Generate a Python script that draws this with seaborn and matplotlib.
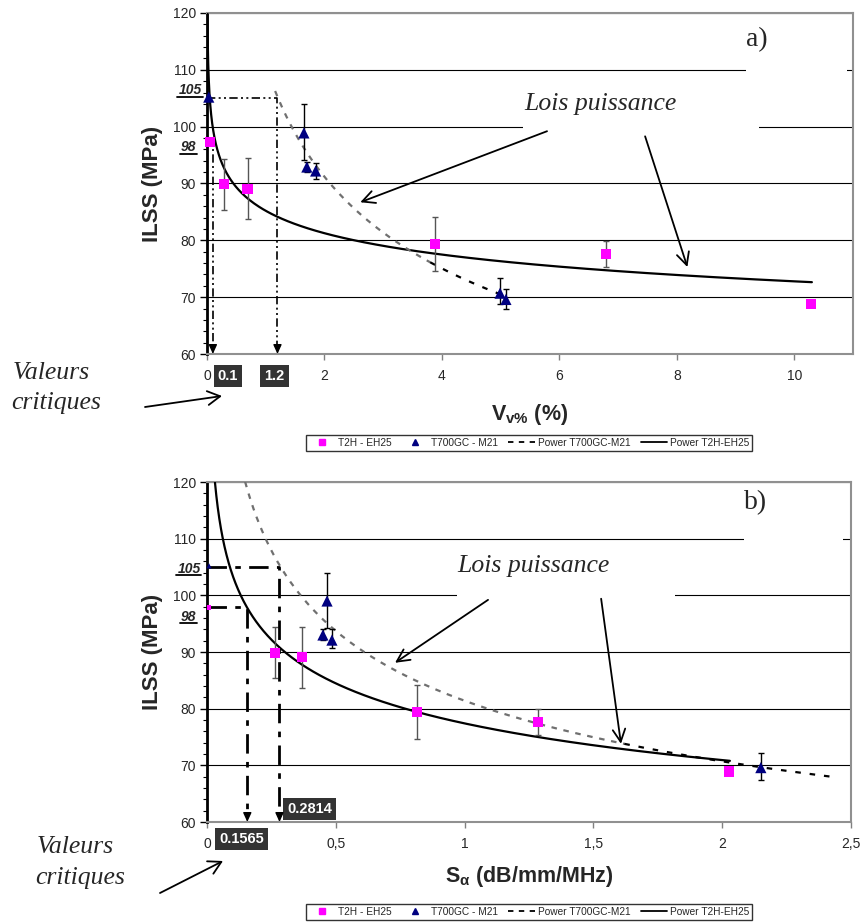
import numpy as np
import pandas as pd
import matplotlib
matplotlib.use("Agg")
import matplotlib.pyplot as plt
import seaborn as sns
from matplotlib.lines import Line2D
from matplotlib.patches import Rectangle
from matplotlib.ticker import MultipleLocator

# ---- values ----
# a) ILSS vs void content
a_t2h_x = [0.05, 0.29, 0.69, 3.88, 6.80, 10.29]
a_t2h_y = [97.3, 89.9, 89.0, 79.3, 77.6, 68.8]
a_t2h_lo = [97.3, 85.3, 83.7, 74.6, 75.3, 68.8]
a_t2h_hi = [97.3, 94.3, 94.5, 84.1, 79.9, 68.8]
a_t2h_s = [55, 55, 55, 55, 55, 55]

a_t700_x = [0.03, 1.65, 1.70, 1.85, 4.99, 5.09]
a_t700_y = [105.2, 98.9, 92.9, 92.2, 70.7, 69.6]
a_t700_lo = [105.2, 94.1, 92.0, 90.8, 68.8, 67.9]
a_t700_hi = [105.2, 104.0, 93.7, 93.6, 73.3, 71.4]
a_t700_s = [65, 65, 65, 65, 65, 65]

# b) ILSS vs attenuation slope
b_t2h_x = [0.008, 0.264, 0.369, 0.815, 1.285, 2.026]
b_t2h_y = [97.8, 89.8, 89.1, 79.4, 77.7, 68.9]
b_t2h_lo = [97.8, 85.4, 83.7, 74.7, 75.3, 68.9]
b_t2h_hi = [97.8, 94.4, 94.4, 84.2, 80.0, 68.9]
b_t2h_s = [12, 55, 55, 55, 55, 55]

b_t700_x = [0.008, 0.45, 0.466, 0.485, 2.15]
b_t700_y = [105.2, 93.0, 99.0, 92.1, 69.6]
b_t700_lo = [105.2, 92.2, 94.3, 90.7, 67.5]
b_t700_hi = [105.2, 94.0, 104.0, 94.0, 72.1]
b_t700_s = [14, 65, 65, 65, 65]

# power-law trend lines: (coef, exponent), x range, x where grey part ends
a_fit_t2h = (85.2, -0.0684)
a_fit_t2h_range = (0.0067, 10.3)
a_fit_t700 = (110.8, -0.281)
a_fit_t700_range = (1.16, 4.96, 3.8)
b_fit_t2h = (77.4, -0.126)
b_fit_t2h_range = (0.031, 2.03)
b_fit_t700 = (81.4, -0.2033)
b_fit_t700_range = (0.148, 2.42, 1.62)

# critical values
a_crit_x = [0.1, 1.2]
a_crit_y = [98, 105]
a_crit_lbl = ["0.1", "1.2"]
b_crit_x = [0.1565, 0.2814]
b_crit_y = [98, 105]
b_crit_lbl = ["0.1565", "0.2814"]

a_xticks = [0, 2, 4, 6, 8, 10]
a_xticklabels = ["0", "2", "4", "6", "8", "10"]
b_xticks = [0, 0.5, 1, 1.5, 2, 2.5]
b_xticklabels = ["0", "0,5", "1", "1,5", "2", "2,5"]

MAG = "#FF00FF"
NAVY = "#000080"
W, H = 861, 922

sns.set_style("white")
plt.rcParams["font.family"] = ["Liberation Sans", "DejaVu Sans"]
plt.rcParams["mathtext.fontset"] = "custom"
plt.rcParams["mathtext.rm"] = "Liberation Sans"
plt.rcParams["mathtext.bf"] = "Liberation Sans:bold"
plt.rcParams["mathtext.it"] = "Liberation Sans:italic"

fig = plt.figure(figsize=(W / 100, H / 100), dpi=100)


def fx(x):
    return x / W


def fy(y):
    return 1 - y / H


def power_curve(ax, coef, x0, x1, color, style, lw):
    xs = np.geomspace(x0, x1, 300)
    df = pd.DataFrame({"x": xs, "y": coef[0] * xs ** coef[1]})
    sns.lineplot(data=df, x="x", y="y", ax=ax, color=color, lw=lw,
                 legend=False, zorder=3, sort=False)
    ax.lines[-1].set_linestyle(style)


def series(ax, x, y, lo, hi, s, marker, color, ecolor):
    x, y, lo, hi = map(np.asarray, (x, y, lo, hi))
    m = hi > lo
    ax.errorbar(x[m], y[m], yerr=[y[m] - lo[m], hi[m] - y[m]], fmt="none",
                ecolor=ecolor, elinewidth=1, capsize=2.5, capthick=1, zorder=3)
    df = pd.DataFrame({"x": x, "y": y})
    sns.scatterplot(data=df, x="x", y="y", ax=ax, marker=marker, color=color,
                    s=np.asarray(s), edgecolor="none", legend=False,
                    zorder=5, clip_on=False)


def panel(rect, xlim, xticks, xticklabels, t2h, t700, fit_t2h, fit_t2h_rng,
          fit_t700, fit_t700_rng, crit_x, crit_y, crit_lbl, crit_off,
          crit_lw, crit_dash, xlabel, xlabel_y, tag, tag_xy, lois_xy,
          gaps, arrows):
    ax = fig.add_axes(rect)
    ax.set_xlim(*xlim)
    ax.set_ylim(60, 120)
    ax.set_axisbelow(True)
    ax.yaxis.grid(True, color="k", lw=0.8)
    ax.set_yticks(range(60, 121, 10))
    ax.yaxis.set_minor_locator(MultipleLocator(2))
    ax.set_xticks(xticks)
    ax.set_xticklabels(xticklabels)
    ax.tick_params(axis="y", which="major", direction="out", length=5,
                   width=1, color="k", labelsize=10, pad=3, left=True)
    ax.tick_params(axis="y", which="minor", direction="out", length=3,
                   width=0.8, color="k", left=True)
    ax.tick_params(axis="x", direction="out", length=4, width=1,
                   color="#808080", labelsize=10, pad=7, bottom=True)
    for sp in ["top", "right", "bottom"]:
        ax.spines[sp].set_color("#909090")
        ax.spines[sp].set_linewidth(1.5)
    ax.spines["left"].set_color("k")
    ax.spines["left"].set_linewidth(2)

    # white patches hiding parts of the grid behind the annotations
    for gx0, gx1, gy in gaps:
        ax.add_patch(Rectangle((gx0, gy - 0.8), gx1 - gx0, 1.6,
                               facecolor="white", edgecolor="none", zorder=1))

    # trend lines
    power_curve(ax, fit_t2h, fit_t2h_rng[0], fit_t2h_rng[1], "k", "-", 1.6)
    power_curve(ax, fit_t700, fit_t700_rng[0], fit_t700_rng[2], "#707070",
                (0, (2.5, 3)), 1.6)
    power_curve(ax, fit_t700, fit_t700_rng[2], fit_t700_rng[1], "k",
                (0, (2.5, 4)), 1.6)

    series(ax, *t2h, "s", MAG, "#555555")
    series(ax, *t700, "^", NAVY, "k")

    # critical value construction lines
    for cx, cy, lbl, off in zip(crit_x, crit_y, crit_lbl, crit_off):
        ax.plot([0, cx, cx], [cy, cy, 61.5], color="k", lw=crit_lw,
                dashes=crit_dash, zorder=4, clip_on=False)
        ax.annotate("", xy=(cx, 60), xytext=(cx, 61.6),
                    arrowprops=dict(arrowstyle="-|>,head_length=0.55,head_width=0.25",
                                    color="k", lw=1, shrinkA=0, shrinkB=0),
                    zorder=4)
        ax.annotate(lbl, xy=(cx, 60), xytext=off, textcoords="offset pixels",
                    ha="center", va="center", color="white", fontsize=10.5,
                    fontweight="bold", annotation_clip=False,
                    bbox=dict(boxstyle="square,pad=0.28", facecolor="#333333",
                              edgecolor="none"))

    ax.set_xlabel(xlabel, fontsize=15.5, fontweight="bold")
    ax.xaxis.set_label_coords(0.5, xlabel_y)
    ax.set_ylabel("ILSS (MPa)", fontsize=16, fontweight="bold")
    ax.yaxis.set_label_coords(-0.068, 0.5)

    ax.text(*tag_xy, tag, family="Liberation Serif", fontsize=20,
            ha="center", va="center")
    ax.text(*lois_xy, "Lois puissance", family="Liberation Serif",
            fontstyle="italic", fontsize=18.5, ha="center", va="center", zorder=6)
    for (x0, y0), (x1, y1) in arrows:
        ax.annotate("", xy=(x1, y1), xytext=(x0, y0),
                    arrowprops=dict(arrowstyle="->,head_length=0.9,head_width=0.45",
                                    color="k", lw=1.3, shrinkA=0, shrinkB=0),
                    zorder=6)
    return ax


# ---------- panel a ----------
panel([fx(207), fy(354), fx(853) - fx(207), fy(13) - fy(354)],
      (0, 11), a_xticks, a_xticklabels,
      (a_t2h_x, a_t2h_y, a_t2h_lo, a_t2h_hi, a_t2h_s),
      (a_t700_x, a_t700_y, a_t700_lo, a_t700_hi, a_t700_s),
      a_fit_t2h, a_fit_t2h_range, a_fit_t700, a_fit_t700_range,
      a_crit_x, a_crit_y, a_crit_lbl, [(15, -22), (-3, -22)],
      1.2, (5, 2, 1.2, 2, 1.2, 2),
      r"$\mathbf{V}_{\mathbf{v\%}}$ (%)", -0.14,
      "a)", (9.37, 115.4), (6.70, 104.0),
      [(5.38, 9.40, 100), (9.18, 10.89, 110)],
      [((5.79, 99.2), (2.61, 86.7)), ((7.46, 98.3), (8.18, 75.3))])

# ---------- panel b ----------
panel([fx(207), fy(822), fx(851) - fx(207), fy(482) - fy(822)],
      (0, 2.5), b_xticks, b_xticklabels,
      (b_t2h_x, b_t2h_y, b_t2h_lo, b_t2h_hi, b_t2h_s),
      (b_t700_x, b_t700_y, b_t700_lo, b_t700_hi, b_t700_s),
      b_fit_t2h, b_fit_t2h_range, b_fit_t700, b_fit_t700_range,
      b_crit_x, b_crit_y, b_crit_lbl, [(-6, -17), (30, 13)],
      2.0, (7, 3, 2, 3),
      r"$\mathbf{S_{\alpha}}$ (dB/mm/MHz)", -0.124,
      "b)", (2.131, 116.3), (1.266, 105.2),
      [(0.97, 1.817, 100), (2.085, 2.47, 110)],
      [((1.091, 99.2), (0.730, 88.1)), ((1.530, 99.4), (1.607, 73.8))])

# ---------- labels outside the axes ----------
for (tx, ty, lbl, ux0, ux1, uy) in [
        (190, 90, "105", 177, 203, 97), (188, 147, "98", 180, 197, 154),
        (189, 569, "105", 176, 201, 575), (188, 617, "98", 180, 197, 623)]:
    fig.text(fx(tx), fy(ty), lbl, ha="center", va="center", fontsize=10,
             fontweight="bold", fontstyle="italic")
    fig.add_artist(Line2D([fx(ux0), fx(ux1)], [fy(uy), fy(uy)],
                          transform=fig.transFigure, color="k", lw=1.3))

for (vx, vy1, vy2, ax0, ay0, ax1, ay1) in [
        (13, 373, 403, 145, 407, 222, 396),
        (37, 847, 878, 160, 893, 223, 861)]:
    fig.text(fx(vx), fy(vy1), "Valeurs", family="Liberation Serif",
             fontstyle="italic", fontsize=18.5, ha="left", va="center")
    fig.text(fx(vx - 2), fy(vy2), "critiques", family="Liberation Serif",
             fontstyle="italic", fontsize=18.5, ha="left", va="center")
    fig.add_artist(matplotlib.patches.FancyArrowPatch(
        (fx(ax0), fy(ay0)), (fx(ax1), fy(ay1)), transform=fig.transFigure,
        arrowstyle="->,head_length=9,head_width=5", color="k", lw=1.3,
        shrinkA=0, shrinkB=0))

# ---------- legends ----------
handles = [
    Line2D([], [], marker="s", color=MAG, ls="none", markersize=5, label="T2H - EH25"),
    Line2D([], [], marker="^", color=NAVY, ls="none", markersize=5, label="T700GC - M21"),
    Line2D([], [], color="k", ls=(0, (3, 3)), lw=1.3, label="Power T700GC-M21"),
    Line2D([], [], color="k", lw=1.3, label="Power T2H-EH25"),
]
for cy in [443, 912]:
    leg = fig.legend(handles=handles, loc="center", bbox_to_anchor=(fx(529), fy(cy)),
                     ncol=4, fontsize=7.3, frameon=True, fancybox=False,
                     edgecolor="k", borderpad=0.3, handlelength=2.6,
                     handletextpad=0.3, columnspacing=1.0)
    leg.get_frame().set_linewidth(1)

fig.savefig("out.png", dpi=100)
